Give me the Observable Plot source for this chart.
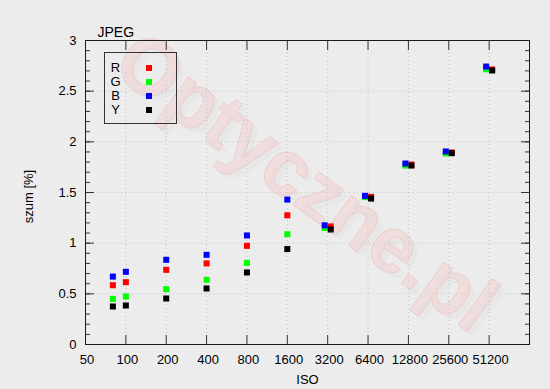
<!DOCTYPE html>
<html>
<head>
<meta charset="utf-8">
<script src="https://cdn.jsdelivr.net/npm/d3@7"></script>
<script src="https://cdn.jsdelivr.net/npm/@observablehq/plot@0.6"></script>
<style>
  html, body { margin: 0; padding: 0; background: #ececec; }
  #wrap { position: relative; width: 550px; height: 389px; font-family: "Liberation Sans", Arial, sans-serif; }
  #legend { position: absolute; left: 104px; top: 52px; width: 71px; height: 70px; border: 1px solid #333; }
  #legend .row { position: absolute; left: 0; width: 71px; height: 14px; font-size: 13px; line-height: 14px; color: #000; }
  #legend .lab { position: absolute; left: 5px; width: 11px; text-align: center; }
  #legend .sw { position: absolute; left: 41px; top: 4px; width: 6px; height: 6px; }
</style>
</head>
<body>
<div id="wrap"></div>
<script>
// ---- data ----
const series = ["R", "G", "B", "Y"];
const seriesColors = ["#ff0000", "#00ff00", "#0000ff", "#000000"];
const isoTicks = [50, 100, 200, 400, 800, 1600, 3200, 6400, 12800, 25600, 51200];
const yTicks = [0, 0.5, 1, 1.5, 2, 2.5, 3];
// x positions (ISO) as read: R and Y sit slightly right, G and B slightly left from ISO 3200 up
const isoRY = [80, 100, 200, 400, 800, 1600, 3370, 6740, 13480, 26960, 53920];
const isoGB = [80, 100, 200, 400, 800, 1600, 3040, 6080, 12160, 24320, 48640];
const valR = [0.585, 0.615, 0.737, 0.800, 0.974, 1.275, 1.165, 1.457, 1.776, 1.895, 2.714];
const valG = [0.450, 0.474, 0.546, 0.638, 0.806, 1.088, 1.150, 1.455, 1.766, 1.885, 2.716];
const valB = [0.670, 0.717, 0.836, 0.885, 1.076, 1.430, 1.176, 1.467, 1.786, 1.905, 2.743];
const valY = [0.375, 0.385, 0.454, 0.553, 0.711, 0.942, 1.135, 1.440, 1.766, 1.888, 2.704];

const xs = {R: isoRY, G: isoGB, B: isoGB, Y: isoRY};
const vs = {R: valR, G: valG, B: valB, Y: valY};
const rows = series.flatMap(s => vs[s].map((v, i) => ({s, iso: xs[s][i], v})));
const yMinor = d3.ticks(0, 3, 30);

const tickStroke = "#333";
const chart = Plot.plot({
  width: 550,
  height: 389,
  marginLeft: 85,
  marginRight: 21,
  marginTop: 40,
  marginBottom: 45,
  style: {background: "#ececec", fontFamily: "Liberation Sans, Arial, sans-serif", fontSize: "13px", color: "#000"},
  x: {type: "log", base: 2, domain: [50, 102400]},
  y: {domain: [0, 3]},
  color: {domain: series, range: seriesColors},
  marks: [
    // watermark
    Plot.text(["Optyczne.pl"], {frameAnchor: "middle", lineAnchor: "middle", textAnchor: "middle", dx: 3, dy: -5, rotate: 36,
      fontSize: 79, fontWeight: "bold", fill: "#000", fillOpacity: 0.02}),
    Plot.text(["Optyczne.pl"], {frameAnchor: "middle", lineAnchor: "middle", textAnchor: "middle", dx: -2, dy: -10, rotate: 36,
      fontSize: 79, fontWeight: "bold", fill: "#f6cccc", fillOpacity: 0.45, stroke: "#e6c2c2", strokeOpacity: 0.6, strokeWidth: 1}),
    // grid
    Plot.gridX(isoTicks.slice(1), {stroke: "#c4c4c4", strokeOpacity: 1, strokeDasharray: "1,3"}),
    Plot.gridY(yTicks.slice(1, -1), {stroke: "#c4c4c4", strokeOpacity: 1, strokeDasharray: "1,3"}),
    // inward tick marks
    Plot.axisX(isoTicks, {anchor: "bottom", tickSize: 9, dy: -9, text: null, label: null, stroke: tickStroke}),
    Plot.axisX(isoTicks, {anchor: "top", tickSize: 9, dy: 9, text: null, label: null, stroke: tickStroke}),
    Plot.axisY(yTicks, {anchor: "left", tickSize: 9, dx: 9, text: null, label: null, stroke: tickStroke}),
    Plot.axisY(yMinor, {anchor: "left", tickSize: 5, dx: 5, text: null, label: null, stroke: tickStroke}),
    Plot.axisY(yTicks, {anchor: "right", tickSize: 9, dx: -9, text: null, label: null, stroke: tickStroke}),
    Plot.axisY(yMinor, {anchor: "right", tickSize: 5, dx: -5, text: null, label: null, stroke: tickStroke}),
    // tick labels
    Plot.axisX(isoTicks, {anchor: "bottom", tickSize: 0, tickPadding: 10, dx: 1.5, tickFormat: d => String(d), label: null, fill: "#000"}),
    Plot.axisY(yTicks, {anchor: "left", tickSize: 0, tickPadding: 9, tickFormat: d => String(d), label: null, fill: "#000"}),
    // axis titles and chart title
    Plot.text(["ISO"], {frameAnchor: "bottom", lineAnchor: "middle", textAnchor: "middle", dy: 35, fontSize: 13, fill: "#000"}),
    Plot.text(["szum [%]"], {frameAnchor: "left", lineAnchor: "middle", textAnchor: "middle", dx: -57, dy: 4, rotate: -90, fontSize: 13, fill: "#000"}),
    Plot.text(["JPEG"], {frameAnchor: "top-left", lineAnchor: "middle", textAnchor: "start", dx: 12, dy: -8, fontSize: 14, fill: "#000"}),
    // frame
    Plot.frame({stroke: "#1a1a1a", strokeWidth: 1}),
    // data
    Plot.dot(rows, {x: "iso", y: "v", fill: "s", symbol: "square", r: 3.4, stroke: null})
  ]
});

const wrap = document.getElementById("wrap");
wrap.appendChild(chart);

// legend inside the plot area
const legend = document.createElement("div");
legend.id = "legend";
series.forEach((s, i) => {
  const row = document.createElement("div");
  row.className = "row";
  row.style.top = (8 + i * 14) + "px";
  const lab = document.createElement("span");
  lab.className = "lab";
  lab.textContent = s;
  const sw = document.createElement("span");
  sw.className = "sw";
  sw.style.background = seriesColors[i];
  row.appendChild(lab);
  row.appendChild(sw);
  legend.appendChild(row);
});
wrap.appendChild(legend);
</script>
</body>
</html>
